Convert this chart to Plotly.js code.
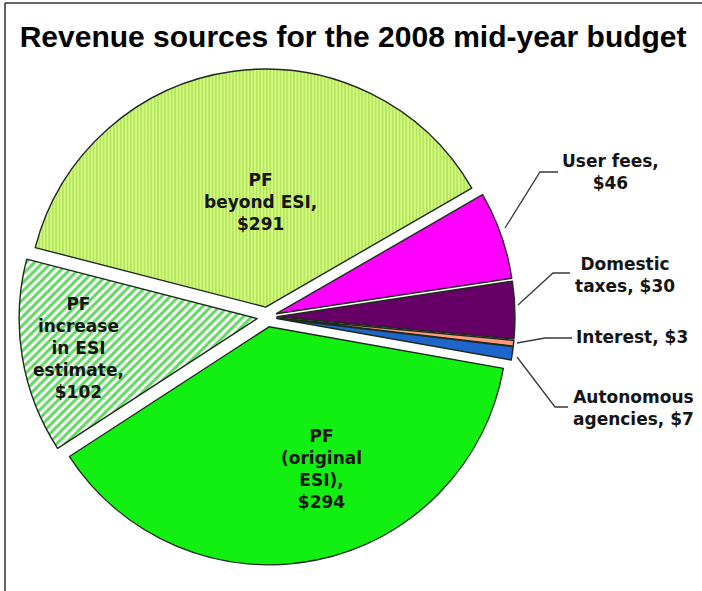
<!DOCTYPE html>
<html>
<head>
<meta charset="utf-8">
<script src="https://cdn.plot.ly/plotly-3.0.1.min.js"></script>
<style>
  html, body { margin: 0; padding: 0; background: #ffffff; }
  #chart { width: 702px; height: 591px; }
</style>
</head>
<body>
<div id="chart"></div>
<script>
// ---- data ----
var labels = ['User fees', 'Domestic taxes', 'Interest', 'Autonomous agencies',
              'PF (original ESI)', 'PF increase in ESI estimate', 'PF beyond ESI'];
var values = [46, 30, 3, 7, 294, 102, 291];
var labelHeads = ['User fees,<br>', 'Domestic<br>taxes, ', 'Interest, ', 'Autonomous<br>agencies, ',
                  'PF<br>(original<br>ESI),<br>', 'PF<br>increase<br>in ESI<br>estimate,<br>', 'PF<br>beyond ESI,<br>'];
var sliceColors = ['#ff00ff', '#660066', '#ff9980', '#1f66cc', '#11f011', '#ffffff', '#d2fb7c'];
var patternShapes = ['', '', '', '', '', '/', '|'];
var patternFg = ['#ff00ff', '#660066', '#ff9980', '#1f66cc', '#11f011', '#5fd85f', '#a2d64e'];

// ---- layout helpers (pixel positions in the 702x591 frame) ----
var W = 702, H = 591;
function px(x) { return x / W; }
function py(y) { return 1 - y / H; }

var labelPos = [[610, 172], [625, 275], [632, 337], [633, 408], [321, 469], [78, 348], [260, 202]];
var leaderPaths = [
  [[505, 228], [540, 172], [558, 172]],
  [[518, 305], [553, 273], [570, 273]],
  [[517, 343], [545, 338], [572, 338]],
  [[517, 357], [555, 407], [568, 407]]
];

var trace = {
  type: 'pie',
  labels: labels,
  values: values,
  sort: false,
  direction: 'clockwise',
  rotation: 60,
  pull: [0.042, 0.042, 0.042, 0.042, 0.042, 0.042, 0.042],
  textinfo: 'none',
  hoverinfo: 'label+value',
  showlegend: false,
  marker: {
    colors: sliceColors,
    line: { color: '#1e2a1e', width: 1.4 },
    pattern: {
      shape: patternShapes,
      fgcolor: patternFg,
      bgcolor: sliceColors,
      size: [8, 8, 8, 8, 8, 6, 3.4],
      solidity: [0.3, 0.3, 0.3, 0.3, 0.3, 0.5, 0.3]
    }
  },
  domain: { x: [px(267 - 248), px(267 + 248)], y: [py(317 + 248), py(317 - 248)] }
};

var annotations = labels.map(function (lab, i) {
  return {
    xref: 'paper', yref: 'paper',
    x: px(labelPos[i][0]), y: py(labelPos[i][1]),
    xanchor: 'center', yanchor: 'middle',
    text: labelHeads[i] + '$' + values[i],
    showarrow: false,
    align: 'center',
    font: { family: 'DejaVu Sans', size: 17, color: '#151515', weight: 'bold' }
  };
});

var shapes = leaderPaths.map(function (pts) {
  var d = pts.map(function (p, k) { return (k === 0 ? 'M' : 'L') + px(p[0]) + ',' + py(p[1]); }).join(' ');
  return { type: 'path', xref: 'paper', yref: 'paper', path: d, line: { color: '#3a3a3a', width: 1.3 } };
});
// frame lines (left and top)
shapes.push({ type: 'line', xref: 'paper', yref: 'paper', x0: px(5), x1: px(5), y0: 0, y1: py(3), line: { color: '#333333', width: 1.5 } });
shapes.push({ type: 'line', xref: 'paper', yref: 'paper', x0: px(5), x1: 1, y0: py(3), y1: py(3), line: { color: '#333333', width: 1.5 } });

var layout = {
  width: W, height: H,
  margin: { l: 0, r: 0, t: 0, b: 0 },
  paper_bgcolor: '#ffffff',
  title: {
    text: 'Revenue sources for the 2008 mid-year budget',
    font: { family: 'Liberation Sans, Arial', size: 30, color: '#000000', weight: 'bold' },
    x: 0.503, xanchor: 'center',
    y: 1 - 36.5 / H, yref: 'container', yanchor: 'middle'
  },
  annotations: annotations,
  shapes: shapes
};

Plotly.newPlot('chart', [trace], layout, { displayModeBar: false, staticPlot: true });
</script>
</body>
</html>
